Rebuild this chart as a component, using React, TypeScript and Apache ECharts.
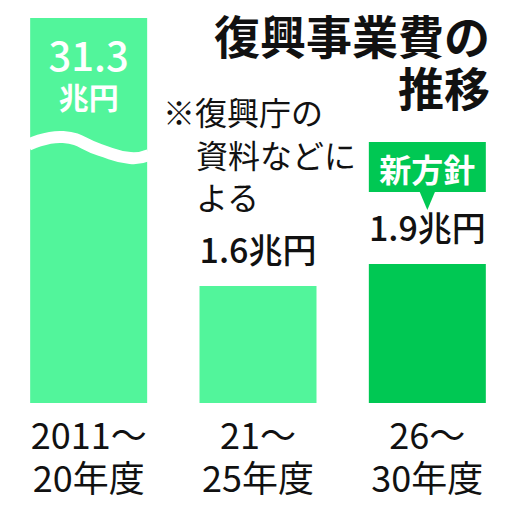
import React, { useEffect, useRef } from "react";
import * as echarts from "echarts";

const categories = ["2011～\n20年度", "21～\n25年度", "26～\n30年度"];
const values = [31.3, 1.6, 1.9];
const unit = "兆円";
const titleText = "復興事業費の\n推移";
const noteLine1 = "※復興庁の";
const noteRest = "資料などに\nよる";
const calloutText = "新方針";

const LIGHT = "#52F59B";
const DARK = "#00C853";
const FONT = "'Noto Sans CJK JP', 'Noto Sans', sans-serif";

export default function App() {
  const ref = useRef<HTMLDivElement>(null);
  useEffect(() => {
    if (!ref.current) return;
    const chart = echarts.init(ref.current, undefined, { renderer: "svg" });
    const barW = 117;
    chart.setOption({
      animation: false,
      backgroundColor: "#ffffff",
      textStyle: { fontFamily: FONT },
      grid: { left: 4, width: 516, top: 18, bottom: 109, containLabel: false },
      xAxis: {
        type: "category",
        data: categories,
        axisLine: { show: false },
        axisTick: { show: false },
        axisLabel: {
          fontSize: 36,
          lineHeight: 43,
          color: "#111",
          margin: 8,
          fontFamily: FONT,
        },
      },
      yAxis: {
        type: "value",
        min: 0,
        max: 5.26,
        show: false,
        splitLine: { show: false },
      },
      series: [
        {
          type: "bar",
          barWidth: barW,
          clip: true,
          data: values.map((v, i) => {
            if (i === 0) {
              return {
                value: v,
                itemStyle: { color: LIGHT },
                label: {
                  show: true,
                  position: "insideTop",
                  distance: 16,
                  formatter: () => `{a|${v}}\n{b|${unit}}`,
                  rich: {
                    a: { fontSize: 40, lineHeight: 40, color: "#fff", fontFamily: FONT, fontWeight: 500 },
                    b: { fontSize: 30, lineHeight: 44, color: "#fff", fontFamily: FONT, fontWeight: "bold" },
                  },
                },
              };
            }
            return {
              value: v,
              itemStyle: { color: i === 2 ? DARK : LIGHT },
              label: {
                show: true,
                position: "top",
                distance: 20,
                formatter: () => `${v}${unit}`,
                fontSize: 34,
                color: "#111",
                fontFamily: FONT,
                fontWeight: 500,
              },
            };
          }),
        },
      ],
    });

    const p0 = chart.convertToPixel({ seriesIndex: 0 }, [0, 0]) as number[];
    const p2 = chart.convertToPixel({ seriesIndex: 0 }, [2, 0]) as number[];
    const l0 = p0[0] - barW / 2;
    const c2 = p2[0];
    const wave = [
      [l0 - 2, 145],
      [l0 + 33, 137],
      [l0 + 70, 150],
      [l0 + 100, 158],
      [l0 + barW + 2, 155],
    ];

    chart.setOption({
      graphic: [
        {
          type: "polyline",
          shape: { points: wave, smooth: 0.5 },
          style: { stroke: "#fff", lineWidth: 12, fill: null },
          z: 100,
        },
        {
          type: "text",
          x: 490,
          y: 8,
          style: {
            text: titleText,
            align: "right",
            verticalAlign: "top",
            fontSize: 46,
            lineHeight: 52,
            fontWeight: "bold",
            fill: "#111",
            fontFamily: FONT,
          },
        },
        {
          type: "text",
          x: 163,
          y: 111,
          style: {
            text: noteLine1,
            verticalAlign: "middle",
            fontSize: 32,
            fill: "#111",
            fontFamily: FONT,
          },
        },
        {
          type: "text",
          x: 196,
          y: 133,
          style: {
            text: noteRest,
            verticalAlign: "top",
            fontSize: 32,
            lineHeight: 42,
            fill: "#111",
            fontFamily: FONT,
          },
        },
        {
          type: "rect",
          shape: { x: c2 - barW / 2, y: 142, width: barW, height: 50 },
          style: { fill: DARK },
        },
        {
          type: "polygon",
          shape: { points: [[c2 - 8, 191], [c2 + 8, 191], [c2, 210]] },
          style: { fill: DARK },
        },
        {
          type: "text",
          x: c2,
          y: 168,
          style: {
            text: calloutText,
            align: "center",
            verticalAlign: "middle",
            fontSize: 32,
            fontWeight: "bold",
            fill: "#fff",
            fontFamily: FONT,
          },
        },
      ],
    });
    return () => chart.dispose();
  }, []);
  return (
    <div
      ref={ref}
      style={{ position: "fixed", left: 0, top: 0, width: 512, height: 512 }}
    />
  );
}
